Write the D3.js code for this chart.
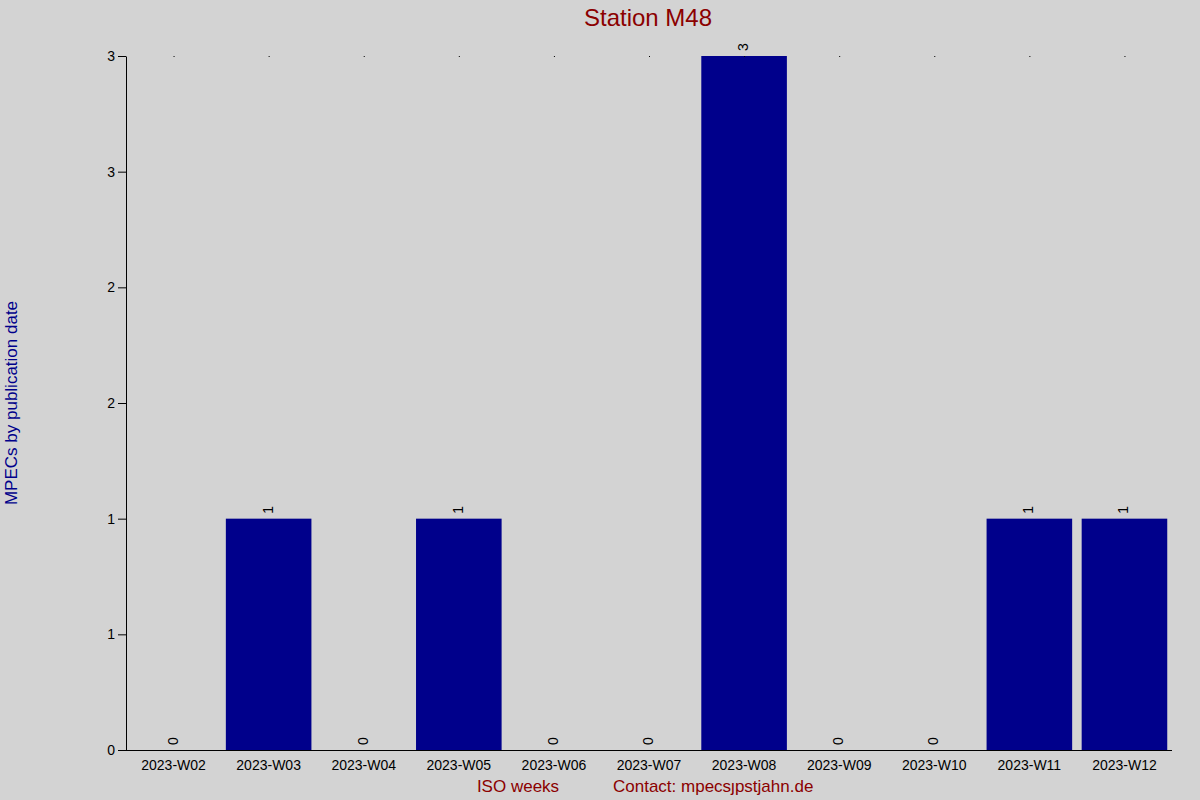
<!DOCTYPE html><html><head><meta charset="utf-8">
<script src="https://cdn.jsdelivr.net/npm/d3@7"></script>
<style>body{margin:0;background:#d3d3d3}text{font-family:"Liberation Sans",Arial,sans-serif}</style></head><body>
<svg id="c" width="1200" height="800"></svg>
<script>
const categories=["2023-W02","2023-W03","2023-W04","2023-W05","2023-W06","2023-W07","2023-W08","2023-W09","2023-W10","2023-W11","2023-W12"];
const values=[0,1,0,1,0,0,3,0,0,1,1];
const yTicks=[0,0.5,1,1.5,2,2.5,3];
const svg=d3.select("#c");
svg.append("rect").attr("width",1200).attr("height",800).attr("fill","#d3d3d3");
const x=d3.scaleBand().domain(categories).range([126,1172]).paddingInner(0.1).paddingOuter(0.05);
const y=d3.scaleLinear().domain([0,3]).range([750,56]);
svg.selectAll("rect.bar").data(values).join("rect").attr("class","bar")
 .attr("x",(d,i)=>x(categories[i])).attr("width",x.bandwidth())
 .attr("y",d=>y(d)).attr("height",d=>750-y(d)).attr("fill","#00008b");
svg.selectAll("text.val").data(values).join("text").attr("class","val")
 .attr("transform",(d,i)=>`translate(${x(categories[i])+x.bandwidth()/2+4},${y(d)-5}) rotate(-90)`)
 .attr("font-size",14).attr("fill","#000").text(d=>d);
svg.selectAll("circle.dot").data(categories).join("rect").attr("class","dot")
 .attr("x",d=>x(d)+x.bandwidth()/2).attr("y",56).attr("width",1).attr("height",1).attr("fill","#000");
const ya=svg.append("g").attr("transform","translate(126,0)").call(d3.axisLeft(y).tickValues(yTicks).tickFormat(d=>d3.format(".0f")(d)).tickSize(8).tickSizeOuter(0));
ya.selectAll("text").attr("font-size",14).attr("fill","#000").attr("font-family","Liberation Sans, Arial, sans-serif");
ya.select(".domain").attr("stroke","#000");
svg.append("line").attr("x1",118).attr("x2",1172).attr("y1",750.5).attr("y2",750.5).attr("stroke","#000");
svg.selectAll("text.cat").data(categories).join("text").attr("class","cat")
 .attr("x",d=>x(d)+x.bandwidth()/2).attr("y",770).attr("text-anchor","middle").attr("font-size",14).attr("fill","#000").text(d=>d);
svg.append("text").attr("x",648).attr("y",26).attr("text-anchor","middle").attr("font-size",24).attr("fill","#8b0000").text("Station M48");
svg.append("text").attr("transform","translate(17,403) rotate(-90)").attr("text-anchor","middle").attr("font-size",17).attr("fill","#00008b").text("MPECs by publication date");
svg.append("text").attr("x",518).attr("y",792).attr("text-anchor","middle").attr("font-size",17).attr("fill","#8b0000").text("ISO weeks");
svg.append("text").attr("x",613).attr("y",792).attr("font-size",17).attr("fill","#8b0000").text("Contact: mpecsȷpstjahn.de");
</script></body></html>
